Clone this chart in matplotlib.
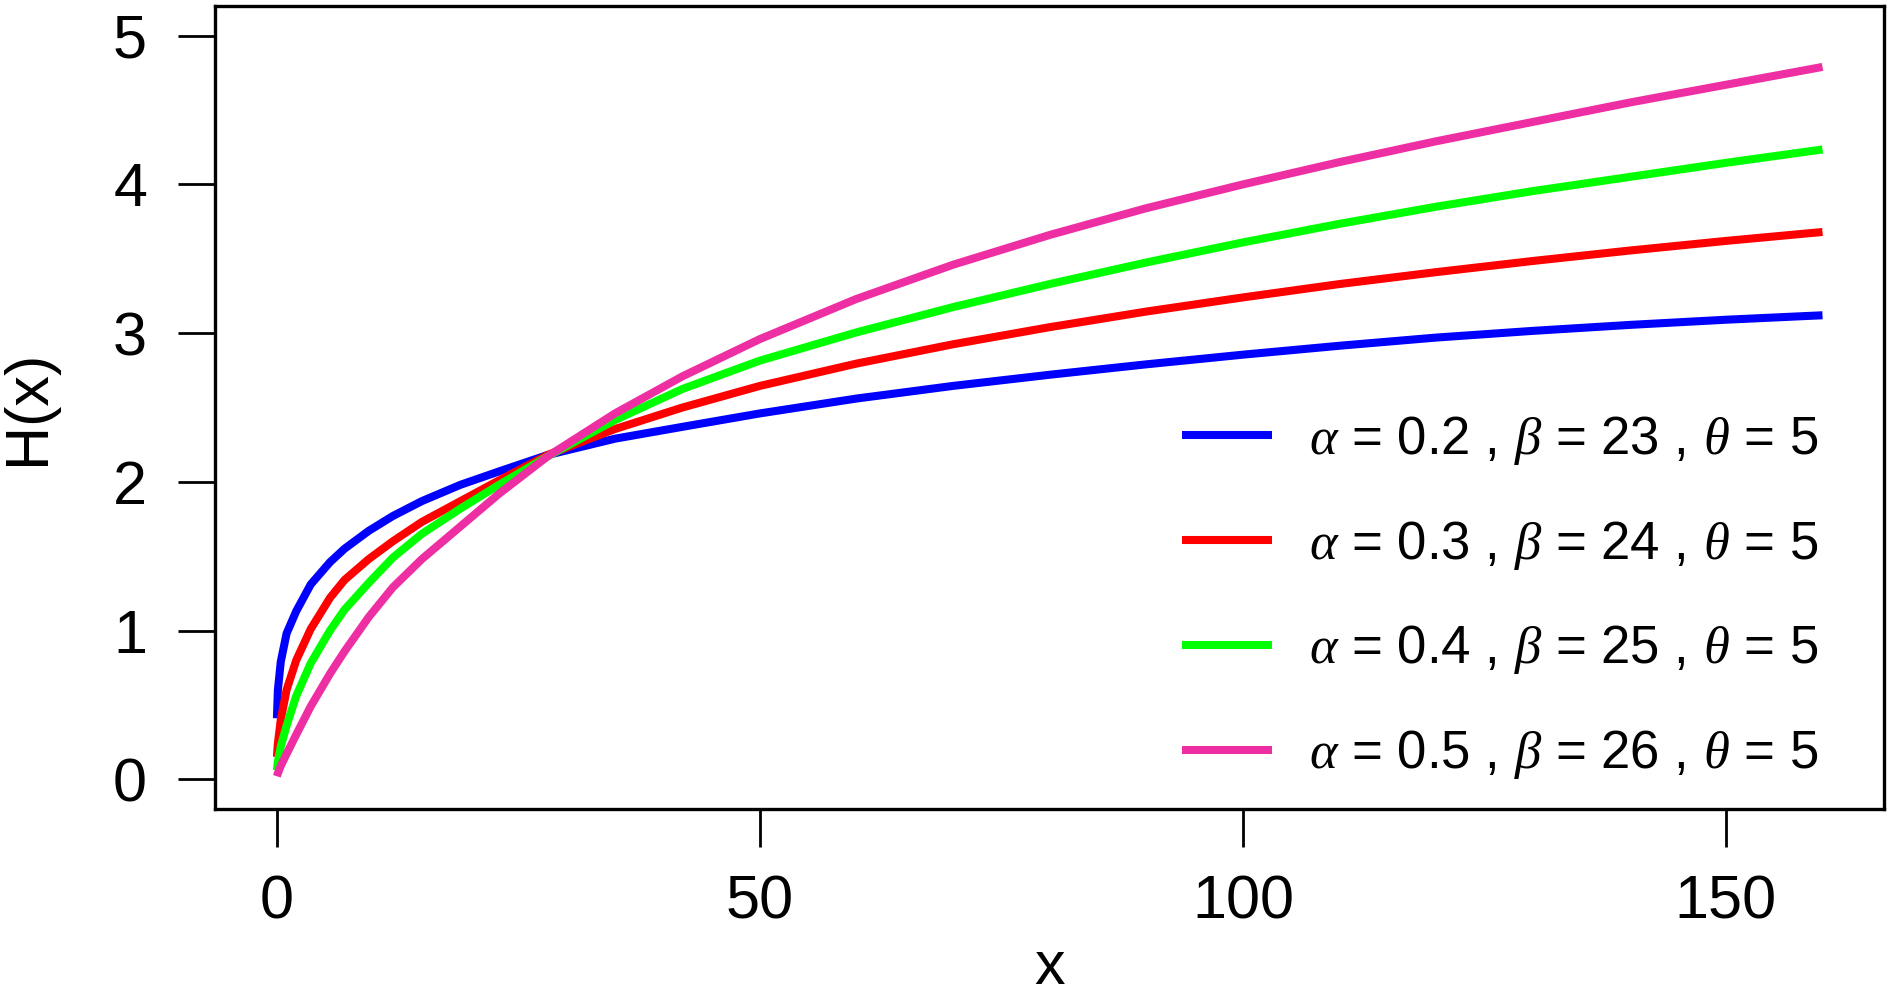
import matplotlib
matplotlib.use("Agg")
import matplotlib.pyplot as plt

# ---- data ----
x_vals = [0, 0.1, 0.4, 1, 2, 3.5, 5.5, 7, 9.5, 12, 15, 19, 23, 28,
          35, 42, 50, 60, 70, 80, 90, 100, 110, 120, 130, 140, 150, 160]

h_blue = [0.41, 0.60, 0.79, 0.98, 1.13, 1.31, 1.46, 1.55, 1.67, 1.77, 1.87, 1.98, 2.07, 2.18,
          2.29, 2.37, 2.46, 2.56, 2.645, 2.72, 2.79, 2.855, 2.915, 2.97, 3.015, 3.055, 3.09, 3.12]
h_red = [0.15, 0.24, 0.40, 0.60, 0.80, 1.01, 1.22, 1.34, 1.48, 1.60, 1.73, 1.87, 2.01, 2.18,
         2.355, 2.50, 2.645, 2.795, 2.925, 3.04, 3.145, 3.24, 3.33, 3.41, 3.485, 3.555, 3.62, 3.68]
h_green = [0.06, 0.12, 0.22, 0.36, 0.56, 0.78, 1.00, 1.14, 1.32, 1.49, 1.65, 1.82, 1.98, 2.17,
           2.415, 2.625, 2.815, 3.005, 3.175, 3.33, 3.475, 3.61, 3.735, 3.85, 3.955, 4.05, 4.145, 4.235]
h_pink = [0.02, 0.04, 0.09, 0.17, 0.30, 0.49, 0.71, 0.86, 1.09, 1.29, 1.48, 1.70, 1.92, 2.17,
          2.46, 2.71, 2.96, 3.23, 3.46, 3.66, 3.84, 4.00, 4.15, 4.29, 4.42, 4.55, 4.67, 4.79]

alphas = ["0.2", "0.3", "0.4", "0.5"]
betas = ["23", "24", "25", "26"]
thetas = ["5", "5", "5", "5"]
colors = ["#0000ff", "#ff0000", "#00ff00", "#ee2fa3"]

x_ticks = [0, 50, 100, 150]
y_ticks = [0, 1, 2, 3, 4, 5]

# ---- style ----
plt.rcParams["font.family"] = ["Liberation Sans", "DejaVu Sans"]
plt.rcParams["mathtext.fontset"] = "custom"
plt.rcParams["mathtext.rm"] = "Liberation Sans"
plt.rcParams["mathtext.it"] = "Liberation Serif:italic"

fig = plt.figure(figsize=(18.9, 9.92), dpi=100)
ax = fig.add_axes([0.1138, 0.1845, 0.997 - 0.1138, 0.994 - 0.1845])

series = [h_blue, h_red, h_green, h_pink]
for h, c, a, b, t in zip(series, colors, alphas, betas, thetas):
    label = rf"$\alpha$ = {a} , $\beta$ = {b} , $\theta$ = {t}"
    ax.plot(x_vals, h, color=c, lw=5.8, solid_capstyle="butt",
            solid_joinstyle="round", label=label)

ax.set_xlim(-6.4, 166.4)
ax.set_ylim(-0.2, 5.2)
ax.set_xticks(x_ticks)
ax.set_yticks(y_ticks)

for sp in ax.spines.values():
    sp.set_linewidth(2.4)
    sp.set_color("black")

ax.tick_params(axis="both", direction="out", length=27, width=2, labelsize=44)
ax.tick_params(axis="x", pad=20)
ax.tick_params(axis="y", pad=22)

ax.set_xlabel("x", fontsize=44, labelpad=6)
ax.set_ylabel("H(x)", fontsize=44, labelpad=40)

ax.legend(loc="upper left", bbox_to_anchor=(0.579, 0.492), frameon=False,
          fontsize=38, handlelength=1.72, handletextpad=0.7,
          labelspacing=0.98, borderpad=0, borderaxespad=0)

fig.savefig("out.png", dpi=100)
